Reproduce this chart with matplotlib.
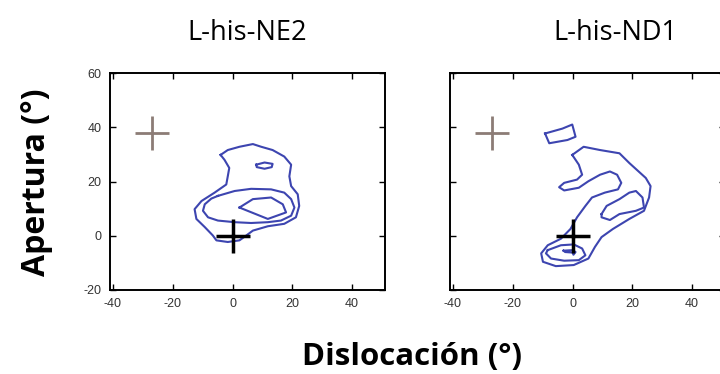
import numpy as np
import matplotlib
matplotlib.use("Agg")
import matplotlib.pyplot as plt

plt.rcParams["axes.unicode_minus"] = False

# panel names and axis ticks
titles = ["L-his-NE2", "L-his-ND1"]
x_ticks = [-40, -20, 0, 20, 40]
y_ticks = [-20, 0, 20, 40, 60]

# reference markers (dislocation, aperture)
gray_cross = (-27, 38)
black_cross = (0, 0)

# contour lines (x, y in degrees)
ne2_outer = [(-4, 29.8), (-1.6, 31.6), (2.3, 32.8), (6.8, 33.8), (9.6, 32.8),
             (13.4, 31.6), (17.3, 29.2), (19.6, 26.2), (19, 21.9), (19.6, 18.3),
             (21.8, 15.3), (22.3, 11), (21.2, 6.8), (17.3, 4.4), (11.8, 3.5),
             (6.8, 1.9), (4.6, 0.1), (2.3, -1.7), (-1.6, -2.3), (-5.4, -1.7),
             (-6.6, 0.1), (-9.3, 3.2), (-12.1, 6.2), (-12.7, 9.8), (-10.4, 12.8),
             (-6, 15.9), (-2.1, 18.9), (-1.6, 21.9), (-1.1, 25), (-2.7, 28)]
ne2_middle = [(-4.9, 14.7), (0.7, 16.5), (6.2, 17.3), (12.9, 17.1), (17.3, 15.9),
              (19.6, 13.5), (20.7, 10.4), (19.6, 7.4), (16.2, 5.6), (11.8, 5),
              (6.2, 4.7), (0.7, 5), (-4.9, 5.6), (-8.2, 6.8), (-9.9, 9.2),
              (-9.3, 11.6), (-7.1, 13.7)]
ne2_inner = [(2.3, 10.4), (6.8, 13.5), (12.9, 14.1), (16.8, 11.6), (17.9, 8.6),
             (11.8, 6.2)]
ne2_small = [(7.9, 26.2), (10.7, 27), (13.4, 26.5), (13.1, 25.3), (10.7, 24.7),
             (8.1, 25.3)]

nd1_outer = [(-0.1, 29.8), (3.7, 32.8), (9.2, 31.6), (15.7, 30.4), (19, 26.8),
             (24.5, 21.3), (26.1, 18.3), (25.6, 14.1), (23.9, 9.2), (19, 6.2),
             (13.5, 2.5), (9.7, -0.5), (7.5, -4.1), (5.3, -8.4), (0.4, -10.8),
             (-5.6, -11.2), (-9.9, -9.6), (-10.5, -6.5), (-8.3, -3.5), (-3.9, -1.1),
             (-0.7, 2.5), (1.5, 6.8), (4.3, 11), (6.5, 14.1), (10.8, 15.9),
             (15.2, 17.1), (16.3, 19.5), (14.9, 22.5), (12.5, 23.7), (9.2, 22.5),
             (5.3, 20.1), (2.1, 17.7), (-2.8, 16.7), (-4.5, 17.9), (-2.8, 19.5),
             (1.5, 20.7), (3.2, 22.5), (2.1, 26.2)]
nd1_top = [(-9.2, 37.7), (-3.4, 39.5), (-0.1, 41), (1, 36.5), (-1.7, 35.3),
           (-7.8, 34.1)]
nd1_leaf = [(9.7, 8), (11.4, 11), (15.7, 13.5), (19, 15.9), (21.2, 16.5),
            (23.4, 14.1), (23.9, 10.4), (21.2, 9.2), (15.7, 8), (12.5, 5.8),
            (9.7, 6.8)]
nd1_low = [(-8.3, -5.3), (-3.9, -3.5), (0.4, -3.2), (3.2, -4.7), (4.3, -7.2),
           (2.1, -9), (-2.8, -9.2), (-7.2, -8.4), (-8.9, -6.5)]
nd1_core = [(-3, -5.5), (0, -5.3), (1, -6), (0.3, -7), (0, -6.2), (-2.5, -6)]

panels = [[ne2_outer, ne2_middle, ne2_inner, ne2_small],
          [nd1_outer, nd1_top, nd1_leaf, nd1_low, nd1_core]]

line_blue = "#3d45b0"

fig = plt.figure(figsize=(7.2, 3.74), dpi=100)
fig.patch.set_facecolor("white")

positions = [[110 / 720, 84 / 374, 275 / 720, 217 / 374],
             [450 / 720, 84 / 374, 275 / 720, 217 / 374]]
title_x = [247 / 720, 615 / 720]

for i, pos in enumerate(positions):
    ax = fig.add_axes(pos)
    for poly in panels[i]:
        pts = np.array(poly + [poly[0]])
        ax.plot(pts[:, 0], pts[:, 1], color=line_blue, lw=1.5, solid_joinstyle="round")

    ax.plot(*gray_cross, marker="+", ms=25, mew=2, color="#8c7c76")
    ax.plot(*black_cross, marker="+", ms=24, mew=2.5, color="black")

    ax.set_xlim(-41, 51)
    ax.set_ylim(-20, 60)
    ax.set_xticks(x_ticks)
    ax.set_yticks(y_ticks)
    ax.tick_params(direction="in", length=4.5, width=1, top=True, right=True,
                   labelsize=9, labelcolor="#333333", pad=6)
    for lbl in ax.get_xticklabels() + ax.get_yticklabels():
        lbl.set_fontfamily("Liberation Sans")
    if i == 1:
        ax.tick_params(labelleft=False)
    for sp in ax.spines.values():
        sp.set_linewidth(1.4)

    fig.text(title_x[i], 1 - 33 / 374, titles[i], ha="center", va="center",
             fontsize=19.5, family="Open Sans")

fig.text(412 / 720, 1 - 357 / 374, "Dislocación (°)", ha="center", va="center",
         fontsize=22.5, fontweight="bold", family="Open Sans")
fig.text(37 / 720, 1 - 182 / 374, "Apertura (°)", ha="center", va="center",
         rotation=90, fontsize=23, fontweight="bold", family="Open Sans")

fig.savefig("out.png", dpi=100)
